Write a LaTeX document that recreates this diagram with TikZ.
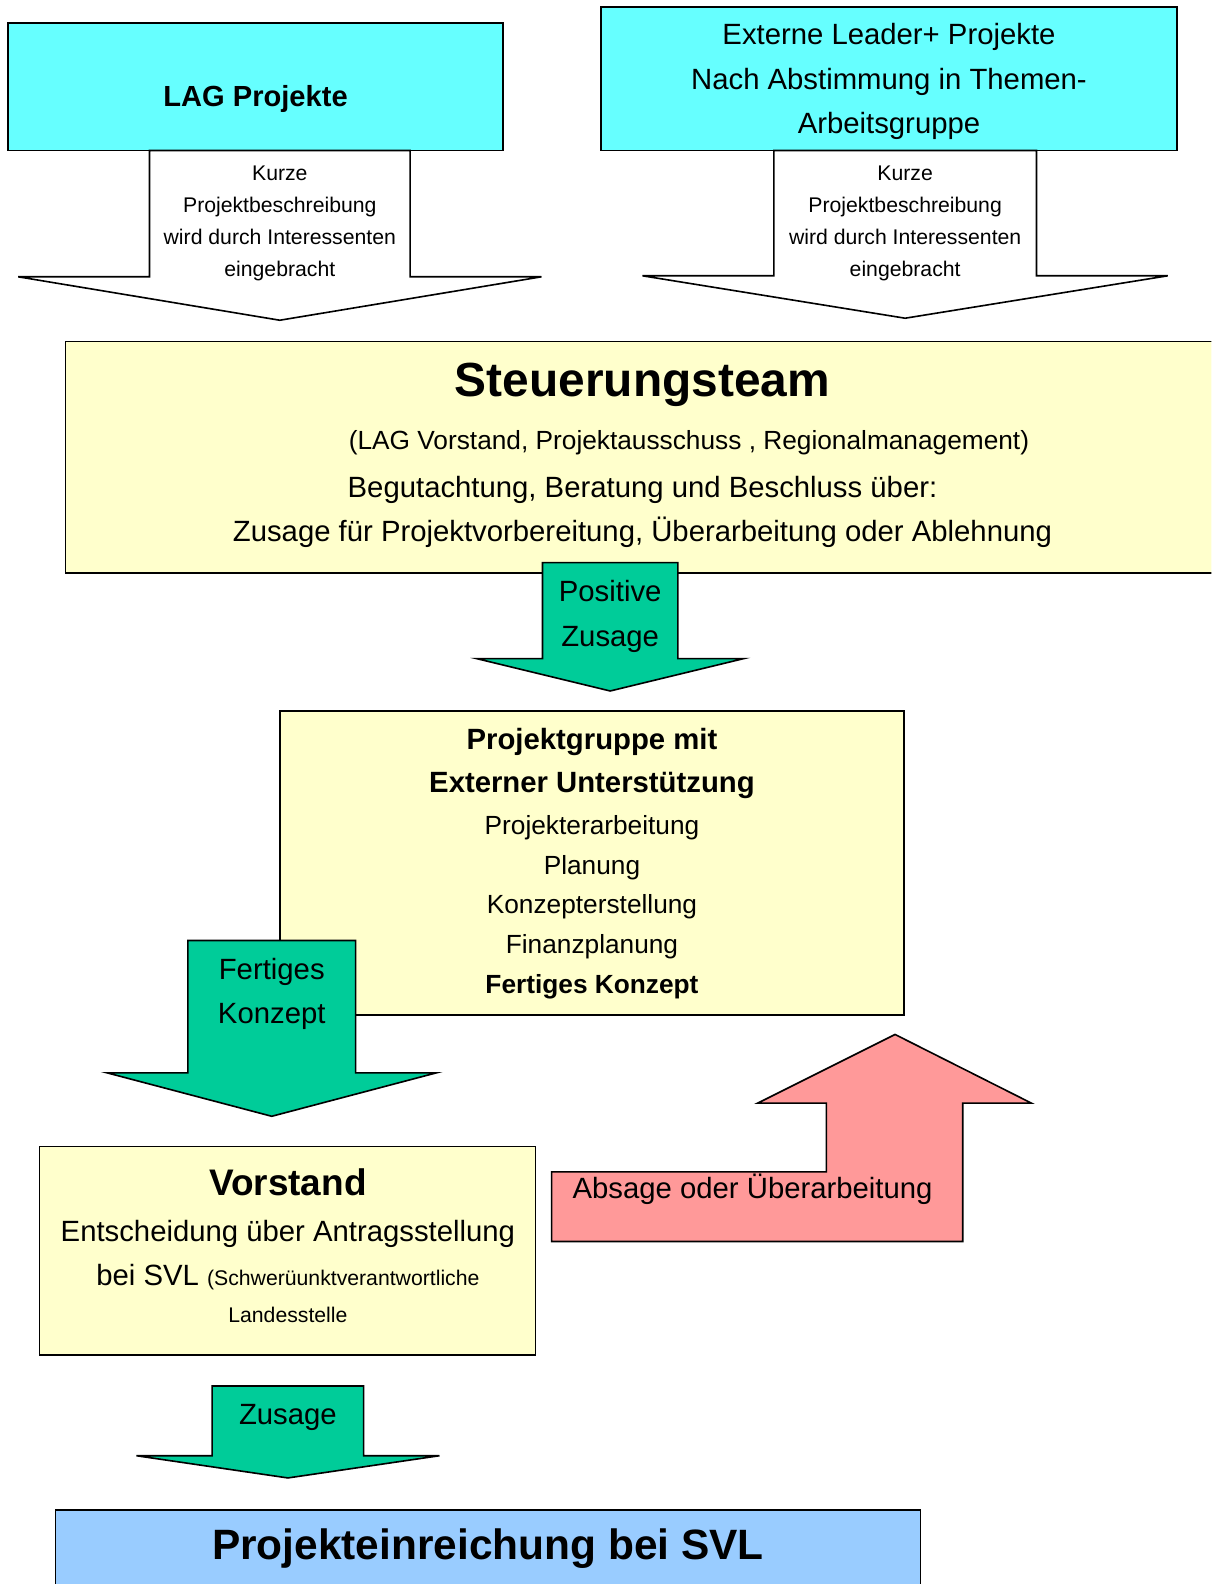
\documentclass[tikz,border=0pt]{standalone}
\usepackage{fontspec}
\setmainfont{Liberation Sans}
\usepackage{tikz}
\usetikzlibrary{positioning}
\usepackage{xcolor}
\definecolor{lagcyan}{HTML}{66FFFF}
\definecolor{lagyellow}{HTML}{FFFFCC}
\definecolor{laggreen}{HTML}{00CC99}
\definecolor{lagpink}{HTML}{FF9999}
\definecolor{lagblue}{HTML}{99CCFF}
% block arrow pointing down: style, centre x, top, shaft half width, shoulder y, wing half width, tip y
\newcommand{\blockdown}[7]{%
  \filldraw[#1] ({#2-#4},#3) -- ({#2-#4},#5) -- ({#2-#6},#5) -- (#2,#7)
    -- ({#2+#6},#5) -- ({#2+#4},#5) -- ({#2+#4},#3) -- cycle;}

\begin{document}
\begin{tikzpicture}[x=0.5pt, y=-0.5pt,
  box/.style={draw=black, line width=0.8pt},
  arrowbody/.style={draw=black, line width=0.8pt, line join=miter},
  lbl/.style={inner sep=0pt, align=center, font=\fontsize{14.5}{22}\selectfont},
  lblsmall/.style={inner sep=0pt, align=center, font=\fontsize{10.5}{15.8}\selectfont}]
\useasboundingbox (0,0) rectangle (1199,1568);
\clip (0,0) rectangle (1199,1568);

% boxes
\filldraw[box, fill=lagcyan] (8,23) rectangle (498,149);
\filldraw[box, fill=lagcyan] (595,7) rectangle (1165,149);
\filldraw[box, fill=lagyellow] (65,338) rectangle (1215,567);
\filldraw[box, fill=lagyellow] (277,704) rectangle (895,1005);
\filldraw[box, fill=lagyellow] (39,1135) rectangle (530,1341);
\filldraw[box, fill=lagblue] (55,1495) rectangle (911,1590);

% block arrows
\blockdown{arrowbody, fill=white}{277}{149}{129}{274}{259}{317}
\blockdown{arrowbody, fill=white}{896}{149}{130}{273}{260}{315}
\blockdown{arrowbody, fill=laggreen}{604}{557}{67}{652}{132}{684}
\blockdown{arrowbody, fill=laggreen}{269}{931}{83}{1062}{163}{1105}
\blockdown{arrowbody, fill=laggreen}{285}{1372}{75}{1441}{150}{1463}
\filldraw[arrowbody, fill=lagpink] (546,1160) -- (818,1160) -- (818,1092) -- (750,1092)
  -- (886,1024) -- (1021,1092) -- (953,1092) -- (953,1229) -- (546,1229) -- cycle;

% texts
\node[lbl, font=\fontsize{14.4}{22}\selectfont\bfseries] (lag) at (253,98) {LAG Projekte};
\node[lbl] (extern) at (880,81) {Externe Leader+ Projekte\\Nach Abstimmung in Themen-\\Arbeitsgruppe};
\node[lblsmall] (lagin) at (277,221) {Kurze\\Projektbeschreibung\\wird durch Interessenten\\eingebracht};
\node[lblsmall] (externin) at (896,221) {Kurze\\Projektbeschreibung\\wird durch Interessenten\\eingebracht};

\node[lbl, font=\fontsize{23.7}{28}\selectfont\bfseries] (steuer) at (636,381) {Steuerungsteam};
\node[lbl, font=\fontsize{13}{20}\selectfont] (steuermit) at (682,438) {(LAG Vorstand, Projektausschuss , Regionalmanagement)};
\node[lbl] (steuertext) at (636,507) {Begutachtung, Beratung und Beschluss über:\\Zusage für Projektvorbereitung, Überarbeitung oder Ablehnung};
\node[lbl] (positiv) at (604,610) {Positive\\Zusage};

\node[lbl, font=\fontsize{14.5}{21.5}\selectfont\bfseries] (gruppe) at (586,756) {Projektgruppe mit\\Externer Unterstützung};
\node[lbl, font=\fontsize{13}{19.6}\selectfont] (gruppeliste) at (586,898) {Projekterarbeitung\\Planung\\Konzepterstellung\\Finanzplanung\\\textbf{Fertiges Konzept}};
\node[lbl] (fertig) at (269,984) {Fertiges\\Konzept};
\node[lbl] (absage) at (745,1177) {Absage oder Überarbeitung};

\node[lbl, font=\fontsize{18.3}{22}\selectfont\bfseries] (vorstand) at (285,1170) {Vorstand};
\node[lbl] (entscheid) at (285,1221) {Entscheidung über Antragsstellung};
\node[lbl] (svl) at (285,1264) {bei SVL {\fontsize{10.5}{12}\selectfont(Schwerüunktverantwortliche}};
\node[lblsmall] (landes) at (285,1302) {Landesstelle};
\node[lbl] (zusage) at (285,1403) {Zusage};
\node[lbl, font=\fontsize{21}{26}\selectfont\bfseries] (einreich) at (483,1533) {Projekteinreichung bei SVL};
\end{tikzpicture}
\end{document}
